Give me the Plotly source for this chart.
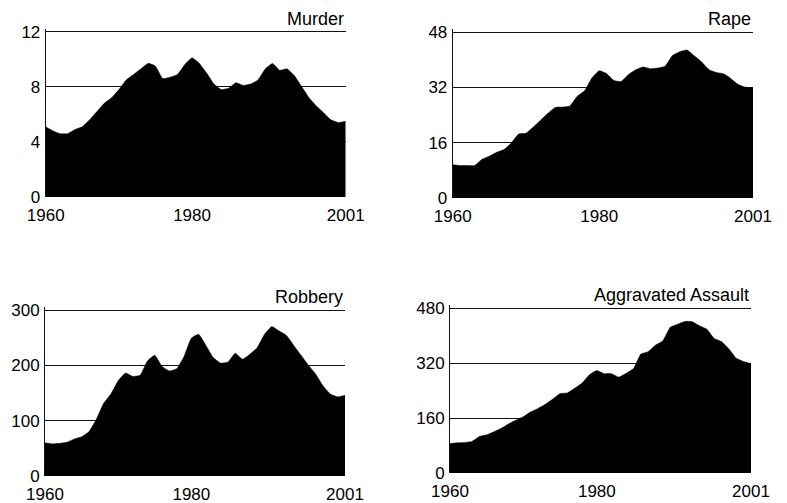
import plotly.graph_objects as go

years = list(range(1960, 2002))

murder = [5.1, 4.8, 4.6, 4.6, 4.9, 5.1, 5.6, 6.2, 6.8, 7.2, 7.8, 8.5, 8.9, 9.3, 9.7, 9.5,
          8.6, 8.7, 8.9, 9.6, 10.1, 9.7, 9.0, 8.2, 7.8, 7.9, 8.3, 8.1, 8.2, 8.5, 9.3, 9.7,
          9.2, 9.3, 8.8, 8.0, 7.2, 6.6, 6.1, 5.6, 5.4, 5.5]
rape = [9.6, 9.4, 9.4, 9.4, 11.2, 12.1, 13.2, 14.0, 15.9, 18.5, 18.7, 20.5, 22.5, 24.5,
        26.2, 26.3, 26.6, 29.4, 31.0, 34.7, 36.8, 36.0, 34.0, 33.7, 35.7, 37.1, 37.9, 37.4,
        37.6, 38.1, 41.2, 42.3, 42.8, 41.1, 39.3, 37.1, 36.3, 35.9, 34.5, 32.8, 32.0, 31.8]
robbery = [60, 58, 59, 61, 67, 71, 80, 102, 131, 148, 172, 186, 180, 182, 208, 218, 198,
           190, 194, 216, 249, 256, 236, 214, 204, 206, 222, 211, 220, 232, 256, 270, 262,
           254, 236, 218, 200, 184, 163, 148, 143, 146]
assault = [86, 88, 89, 92, 106, 111, 120, 130, 143, 154, 164, 178, 188, 200, 215, 231, 233,
           247, 262, 286, 298, 289, 289, 279, 290, 304, 346, 353, 372, 385, 424, 433, 441,
           440, 428, 418, 391, 382, 361, 334, 324, 318]

titles = ["Murder", "Rape", "Robbery", "Aggravated Assault"]
series = [murder, rape, robbery, assault]
yticks = [[0, 4, 8, 12], [0, 16, 32, 48], [0, 100, 200, 300], [0, 160, 320, 480]]
xticks = [1960, 1980, 2001]

W, H = 787, 503
OFF = 8  # default page body margin
FW, FH = W - OFF, H - OFF
# pixel boxes in the window: (x0, x1, ytop, ybottom) -- ytop is where the top tick sits
boxes = [(45.7, 345.7, 31.7, 197), (452.7, 753, 32, 198),
         (45, 345, 310, 476), (450, 751, 308, 473)]
PAD = 3  # px of headroom so the top gridline is not clipped

FONT = "Liberation Sans, Arial, Helvetica, sans-serif"
fig = go.Figure()
layout = dict(template="none", width=FW, height=FH, autosize=False,
              margin=dict(l=0, r=0, t=0, b=0, pad=0),
              paper_bgcolor="white", plot_bgcolor="white", showlegend=False,
              font=dict(family=FONT, size=17, color="black"))
annotations = []

for i, (t, s, yt, b) in enumerate(zip(titles, series, yticks, boxes)):
    n = i + 1
    sx = "" if n == 1 else str(n)
    x0, x1, ytop, ybot = [v - OFF for v in b]
    plot_h = ybot - ytop
    ymax = yt[-1] * (1 + PAD / plot_h)
    fig.add_trace(go.Scatter(x=years, y=s, mode="lines", fill="tozeroy",
                             fillcolor="black",
                             line=dict(color="black", width=0.5, shape="spline", smoothing=0.4),
                             xaxis="x" + sx, yaxis="y" + sx, hoverinfo="x+y"))
    layout["xaxis" + sx] = dict(domain=[x0 / FW, x1 / FW], anchor="y" + sx, range=[1960, 2001],
                                tickmode="array", tickvals=xticks,
                                showgrid=False, zeroline=False, showline=False, ticks="",
                                automargin=False, ticklabelstandoff=6,
                                tickfont=dict(size=17, color="black"))
    layout["yaxis" + sx] = dict(domain=[1 - ybot / FH, 1 - (ytop - PAD) / FH], anchor="x" + sx,
                                range=[0, ymax], tickmode="array", tickvals=yt,
                                showgrid=True, gridcolor="#111", gridwidth=1,
                                zeroline=False, showline=True, linecolor="#111", linewidth=1,
                                ticks="", automargin=False, ticklabelstandoff=1,
                                tickfont=dict(size=17, color="black"))
    annotations.append(dict(text=t, xref="x" + sx + " domain", yref="y" + sx + " domain",
                            x=1, y=1, xanchor="right", yanchor="bottom", yshift=-2,
                            showarrow=False, font=dict(size=18, color="black")))

layout["annotations"] = annotations
fig.update_layout(**layout)
fig.write_html("out.html")
